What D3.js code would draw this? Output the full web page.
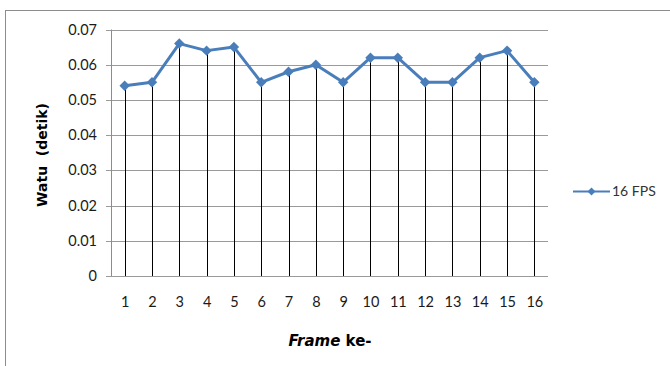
<!DOCTYPE html>
<html>
<head>
<meta charset="utf-8">
<script src="https://cdn.jsdelivr.net/npm/d3@7"></script>
<style>
  html, body { margin: 0; padding: 0; background: #fff; }
  svg { display: block; }
</style>
</head>
<body>
<svg id="chart" width="670" height="366"></svg>
<script>
// Frame numbers and measured time per frame (seconds)
const frames = ["1","2","3","4","5","6","7","8","9","10","11","12","13","14","15","16"];
const fps16 = [0.054,0.055,0.066,0.064,0.065,0.055,0.058,0.060,0.055,0.062,0.062,0.055,0.055,0.062,0.064,0.055];
const yTicks = [0, 0.01, 0.02, 0.03, 0.04, 0.05, 0.06, 0.07];
const seriesName = "16 FPS";

const svg = d3.select("#chart");
const lineColor = "#4a7ebb";
const labelFont = "Lato, 'Open Sans', sans-serif";
const titleFont = "'DejaVu Sans', Verdana, sans-serif";

// Outer chart frame (runs off the right and bottom edges)
svg.append("rect")
  .attr("x", 5.5).attr("y", 10.5)
  .attr("width", 700).attr("height", 400)
  .attr("fill", "none").attr("stroke", "#8c8c8c").attr("stroke-width", 1);

const plot = { left: 111, right: 548, top: 29.5, bottom: 276 };

const x = d3.scalePoint().domain(frames)
  .range([plot.left, plot.right]).padding(0.5);
const y = d3.scaleLinear().domain([0, 0.07])
  .range([plot.bottom, plot.top]);

// Horizontal gridlines
svg.append("g")
  .selectAll("line").data(yTicks).join("line")
  .attr("x1", plot.left - 5).attr("x2", plot.right)
  .attr("y1", d => Math.round(y(d)) + 0.5).attr("y2", d => Math.round(y(d)) + 0.5)
  .attr("stroke", "#9a9a9a").attr("stroke-width", 1);

// Y axis line
svg.append("line")
  .attr("x1", plot.left + 0.5).attr("x2", plot.left + 0.5)
  .attr("y1", plot.top).attr("y2", plot.bottom)
  .attr("stroke", "#8c8c8c");

// Y tick labels
const yAxis = d3.axisLeft(y).tickValues(yTicks)
  .tickFormat(d => d === 0 ? "0" : d3.format(".2f")(d))
  .tickSize(0).tickPadding(0);
const gy = svg.append("g").attr("transform", `translate(${plot.left - 14},0)`).call(yAxis);
gy.select(".domain").remove();
gy.selectAll("text")
  .attr("font-family", labelFont)
  .attr("font-size", 14.5).attr("fill", "#1a1a1a");

// Drop lines from each point down to the category axis
svg.append("g")
  .selectAll("line").data(frames).join("line")
  .attr("x1", d => Math.round(x(d)) + 0.5).attr("x2", d => Math.round(x(d)) + 0.5)
  .attr("y1", (d, i) => y(fps16[i])).attr("y2", plot.bottom)
  .attr("stroke", "#000").attr("stroke-width", 1);

// X tick labels
const xAxis = d3.axisBottom(x).tickSize(0).tickPadding(0);
const gx = svg.append("g").attr("transform", `translate(0,${plot.bottom + 21})`).call(xAxis);
gx.select(".domain").remove();
gx.selectAll("text")
  .attr("font-family", labelFont)
  .attr("font-size", 14.5).attr("fill", "#1a1a1a");

// Series line
const line = d3.line().x((d, i) => x(frames[i])).y(d => y(d));
svg.append("path").datum(fps16)
  .attr("d", line)
  .attr("fill", "none").attr("stroke", lineColor)
  .attr("stroke-width", 3).attr("stroke-linejoin", "round");

// Diamond markers
const diamond = d3.symbol().type(d3.symbolDiamond2).size(70);
svg.append("g")
  .selectAll("path").data(fps16).join("path")
  .attr("d", diamond)
  .attr("transform", (d, i) => `translate(${x(frames[i])},${y(d)})`)
  .attr("fill", lineColor);

// Axis titles
svg.append("text")
  .attr("transform", `translate(47,155) rotate(-90)`)
  .attr("text-anchor", "middle")
  .attr("font-family", titleFont)
  .attr("font-weight", "bold").attr("font-size", 14).attr("fill", "#000")
  .attr("xml:space", "preserve")
  .text("Watu  (detik)");

const xt = svg.append("text")
  .attr("x", 330).attr("y", 346)
  .attr("text-anchor", "middle")
  .attr("font-family", titleFont)
  .attr("font-weight", "bold").attr("font-size", 15).attr("fill", "#000");
xt.append("tspan").attr("font-style", "italic").text("Frame");
xt.append("tspan").text(" ke-");

// Legend
const lg = svg.append("g").attr("transform", "translate(573,191.5)");
lg.append("line").attr("x1", 0).attr("x2", 37).attr("y1", 0).attr("y2", 0)
  .attr("stroke", lineColor).attr("stroke-width", 2);
lg.append("path").attr("d", d3.symbol().type(d3.symbolDiamond2).size(40))
  .attr("transform", "translate(18.5,0)").attr("fill", lineColor);
lg.append("text").attr("x", 39).attr("y", 0).attr("dy", "0.35em")
  .attr("font-family", labelFont)
  .attr("font-size", 14).attr("fill", "#333")
  .text(seriesName);
</script>
</body>
</html>
